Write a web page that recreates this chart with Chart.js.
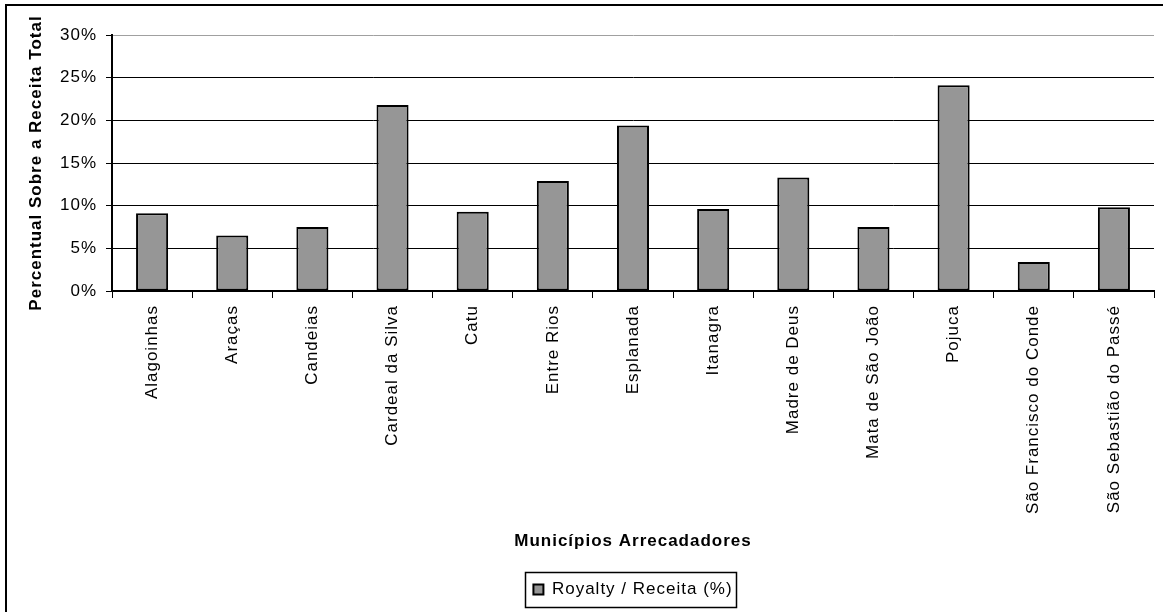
<!DOCTYPE html>
<html lang="pt-BR">
<head>
<meta charset="utf-8">
<title>Royalty / Receita (%)</title>
<script src="https://cdn.jsdelivr.net/npm/chart.js@4/dist/chart.umd.min.js"></script>
<style>
  html, body { margin: 0; padding: 0; background: #ffffff; }
  canvas { display: block; }
</style>
</head>
<body>
<canvas id="grafico" width="1163" height="612"></canvas>
<script>
// Municípios arrecadadores e participação dos royalties na receita total (%)
const municipios = [
  'Alagoinhas', 'Araças', 'Candeias', 'Cardeal da Silva', 'Catu', 'Entre Rios',
  'Esplanada', 'Itanagra', 'Madre de Deus', 'Mata de São João', 'Pojuca',
  'São Francisco do Conde', 'São Sebastião do Passé'
];
const royaltyReceita = [9.1, 6.5, 7.5, 21.8, 9.3, 12.9, 19.4, 9.6, 13.3, 7.5, 24.1, 3.4, 9.8];
const serieNome = 'Royalty / Receita (%)';
const eixoYTitulo = 'Percentual Sobre a Receita Total';
const eixoXTitulo = 'Municípios Arrecadadores';
const eixoYMax = 30;
const eixoYPasso = 5;

const FONTE = '"Liberation Sans", Arial, Helvetica, sans-serif';
const ESPACO_LETRAS = '1px';

Chart.defaults.font.family = FONTE;
Chart.defaults.font.size = 17;
Chart.defaults.color = '#000000';

// slightly wider text spacing for every label on the canvas
const espacamento = {
  id: 'espacamento',
  beforeUpdate(chart) { chart.ctx.letterSpacing = ESPACO_LETRAS; },
  beforeLayout(chart) { chart.ctx.letterSpacing = ESPACO_LETRAS; },
  beforeDraw(chart) { chart.ctx.letterSpacing = ESPACO_LETRAS; }
};

// outer frame of the chart object (left and top edges)
const moldura = {
  id: 'moldura',
  beforeDraw(chart) {
    const ctx = chart.ctx;
    ctx.save();
    ctx.fillStyle = '#ffffff';
    ctx.fillRect(0, 0, chart.width, chart.height);
    ctx.strokeStyle = '#000000';
    ctx.lineWidth = 2;
    ctx.beginPath();
    ctx.moveTo(6, chart.height + 5);
    ctx.lineTo(6, 5);
    ctx.lineTo(chart.width + 5, 5);
    ctx.stroke();
    ctx.restore();
  }
};

// framed legend box
const caixaLegenda = {
  id: 'caixaLegenda',
  afterDraw(chart) {
    const lg = chart.legend;
    if (!lg || !lg.legendHitBoxes || !lg.legendHitBoxes.length) return;
    const hb = lg.legendHitBoxes[0];
    const ctx = chart.ctx;
    ctx.save();
    ctx.strokeStyle = '#000000';
    ctx.lineWidth = 1.5;
    const x0 = Math.round(hb.left - 8) + 0.5;
    const x1 = Math.round(hb.left + hb.width + 3) + 0.5;
    const y0 = Math.round(lg.top + 1) + 0.5;
    const y1 = Math.round(lg.bottom - 1) + 0.5;
    ctx.strokeRect(x0, y0, x1 - x0, y1 - y0);
    ctx.restore();
  }
};

new Chart(document.getElementById('grafico'), {
  type: 'bar',
  data: {
    labels: municipios,
    datasets: [{
      label: serieNome,
      data: royaltyReceita,
      backgroundColor: '#969696',
      borderColor: '#000000',
      borderWidth: 2,
      borderSkipped: false,
      barPercentage: 0.4,
      categoryPercentage: 1.0
    }]
  },
  options: {
    responsive: false,
    devicePixelRatio: 1,
    animation: false,
    layout: { padding: { left: 8, top: 35, right: 9, bottom: 4 } },
    plugins: {
      legend: {
        position: 'bottom',
        fullSize: false,
        labels: {
          boxWidth: 10,
          boxHeight: 10,
          padding: 10,
          color: '#000000',
          font: { size: 17 }
        }
      },
      tooltip: { enabled: false }
    },
    scales: {
      x: {
        offset: true,
        grid: {
          offset: true,
          drawOnChartArea: false,
          drawTicks: true,
          tickLength: 7,
          color: '#000000',
          lineWidth: 1
        },
        border: { color: '#000000', width: 2 },
        ticks: {
          autoSkip: false,
          minRotation: 90,
          maxRotation: 90,
          padding: 7,
          color: '#000000',
          font: { size: 17 }
        },
        title: {
          display: true,
          text: eixoXTitulo,
          color: '#000000',
          font: { size: 17, weight: 'bold' },
          padding: { top: 0, bottom: 19 }
        },
        afterFit(scale) { scale.height = 280; }
      },
      y: {
        min: 0,
        max: eixoYMax,
        grid: {
          color: (c) => (c.tick && c.tick.value === eixoYMax) ? '#a0a0a0' : '#000000',
          tickColor: '#000000',
          lineWidth: 1,
          drawTicks: true,
          tickLength: 6
        },
        border: { color: '#000000', width: 2 },
        ticks: {
          stepSize: eixoYPasso,
          padding: 9,
          color: '#000000',
          font: { size: 17 },
          callback: (v) => v + '%'
        },
        title: {
          display: true,
          text: eixoYTitulo,
          color: '#000000',
          font: { size: 17, weight: 'bold' },
          padding: { top: 18, bottom: 0 }
        },
        afterFit(scale) { scale.width = 104; }
      }
    }
  },
  plugins: [espacamento, moldura, caixaLegenda]
});
</script>
</body>
</html>
